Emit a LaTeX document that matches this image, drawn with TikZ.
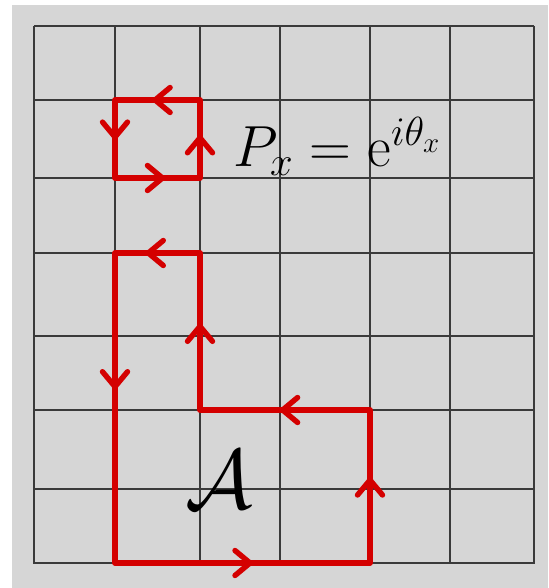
\RequirePackage{fix-cm}
\documentclass[tikz,border=0pt]{standalone}
\usepackage{amsmath,amssymb}
\usepackage{tikz}
\usetikzlibrary{arrows.meta,decorations.markings}
\definecolor{LatGray}{HTML}{D6D6D6}
\definecolor{LatLine}{HTML}{3A3A3A}
\definecolor{LatRed}{HTML}{D40000}

\begin{document}
\begin{tikzpicture}[
  x=0.5pt,y=-0.5pt,
  link/.style={draw=LatLine,line width=0.8pt},
  wilson/.style={draw=LatRed,line width=2.7pt,line join=round,line cap=round},
  orient/.style={LatRed,line width=2.7pt,
    decoration={markings,mark=at position #1 with
      {\arrow{Straight Barb[length=7.5pt,width=12.5pt,round]}}},
    postaction={decorate}},
  orient/.default=0.56,
  mathtxt/.style={inner sep=0pt,text=black}
]

% page and lattice
\fill[white] (0,0) rectangle (548,588);
\fill[LatGray] (12,5) rectangle (548,588);
\useasboundingbox (0,0) rectangle (548,588);
\foreach \gx in {34,115,200,280,370,450,534}
  \draw[link] (\gx,26) -- (\gx,564);
\foreach \gy in {26,100,178,253,336,410,489,563}
  \draw[link] (34,\gy) -- (534,\gy);

% elementary plaquette
\coordinate (s1) at (115,100);
\coordinate (s2) at (115,178);
\coordinate (s3) at (200,178);
\coordinate (s4) at (200,100);
\draw[wilson] (s1) -- (s2) -- (s3) -- (s4) -- cycle;
\foreach \a/\b/\p in {s1/s2/0.51,s2/s3/0.59,s3/s4/0.55,s4/s1/0.56}
  \path[orient=\p] (\a) -- (\b);

% loop around the area
\coordinate (l1) at (115,253);
\coordinate (l2) at (115,563);
\coordinate (l3) at (370,563);
\coordinate (l4) at (370,410);
\coordinate (l5) at (200,410);
\coordinate (l6) at (200,253);
\draw[wilson] (l1) -- (l2) -- (l3) -- (l4) -- (l5) -- (l6) -- cycle;
\foreach \a/\b/\p in {l1/l2/0.44,l2/l3/0.54,l3/l4/0.56,l4/l5/0.53,
    l5/l6/0.55,l6/l1/0.64}
  \path[orient=\p] (\a) -- (\b);

\node[mathtxt,anchor=base west,font=\fontsize{29}{33}\selectfont] (plaq)
  at (233,167) {$P_x=\mathrm{e}^{i\theta_x}$};
\node[mathtxt,anchor=base,font=\fontsize{42}{46}\selectfont] (area)
  at (219,508) {$\mathcal{A}$};

\end{tikzpicture}
\end{document}
